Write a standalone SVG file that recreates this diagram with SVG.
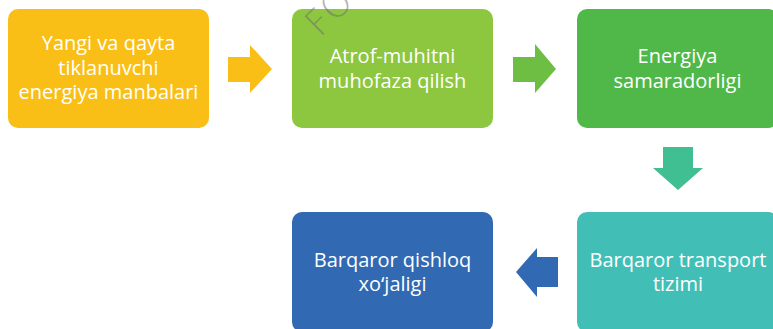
<svg xmlns="http://www.w3.org/2000/svg" width="773" height="329" viewBox="0 0 773 329">
<style>
.box{stroke:none}
.lbl{font-family:"Open Sans","Liberation Sans",sans-serif;font-size:20px;fill:#ffffff;text-anchor:middle}
.wm{font-family:"DejaVu Sans","Liberation Sans",sans-serif;font-weight:200;font-size:36px;fill:#6e6e6e;fill-opacity:0.55}
</style>
<rect width="773" height="329" fill="#ffffff"/>
<g id="node-1">
<rect class="box" x="8" y="9" width="201" height="119" rx="10" fill="#FABF17"/>
<text class="lbl"><tspan x="108.5" y="50">Yangi va qayta</tspan><tspan x="108.5" y="74.5">tiklanuvchi</tspan><tspan x="108.5" y="99">energiya manbalari</tspan></text>
</g>
<g id="node-2">
<rect class="box" x="292" y="9" width="201" height="119" rx="10" fill="#8DC63F"/>
<text class="lbl"><tspan x="392.5" y="63">Atrof-muhitni</tspan><tspan x="392.5" y="87.5">muhofaza qilish</tspan></text>
</g>
<g id="node-3">
<rect class="box" x="577" y="9" width="201" height="119" rx="10" fill="#50B848"/>
<text class="lbl"><tspan x="677.5" y="63">Energiya</tspan><tspan x="677.5" y="87.5">samaradorligi</tspan></text>
</g>
<g id="node-4">
<rect class="box" x="577" y="212" width="201" height="120" rx="10" fill="#41BFB6"/>
<text class="lbl"><tspan x="678" y="266.5">Barqaror transport</tspan><tspan x="678" y="291">tizimi</tspan></text>
</g>
<g id="node-5">
<rect class="box" x="292" y="212" width="201" height="120" rx="10" fill="#3169B3"/>
<text class="lbl"><tspan x="392.5" y="266.5">Barqaror qishloq</tspan><tspan x="392.5" y="291">xo‘jaligi</tspan></text>
</g>
<g id="connectors">
<polygon points="228,57 250,57 250,45 272,69 250,93 250,82 228,82" fill="#FABF17"/>
<polygon points="513,57 535,57 535,44 556,69 535,93 535,82 513,82" fill="#6FBE44"/>
<polygon points="663,147 693,147 693,168 703,168 678,190 653,168 663,168" fill="#40BF92"/>
<polygon points="558,257 537,257 537,248 516,272 537,297 537,287 558,287" fill="#3169B3"/>
</g>
<text class="wm" x="320" y="38" transform="rotate(-45 320 38)">FO</text>
</svg>
